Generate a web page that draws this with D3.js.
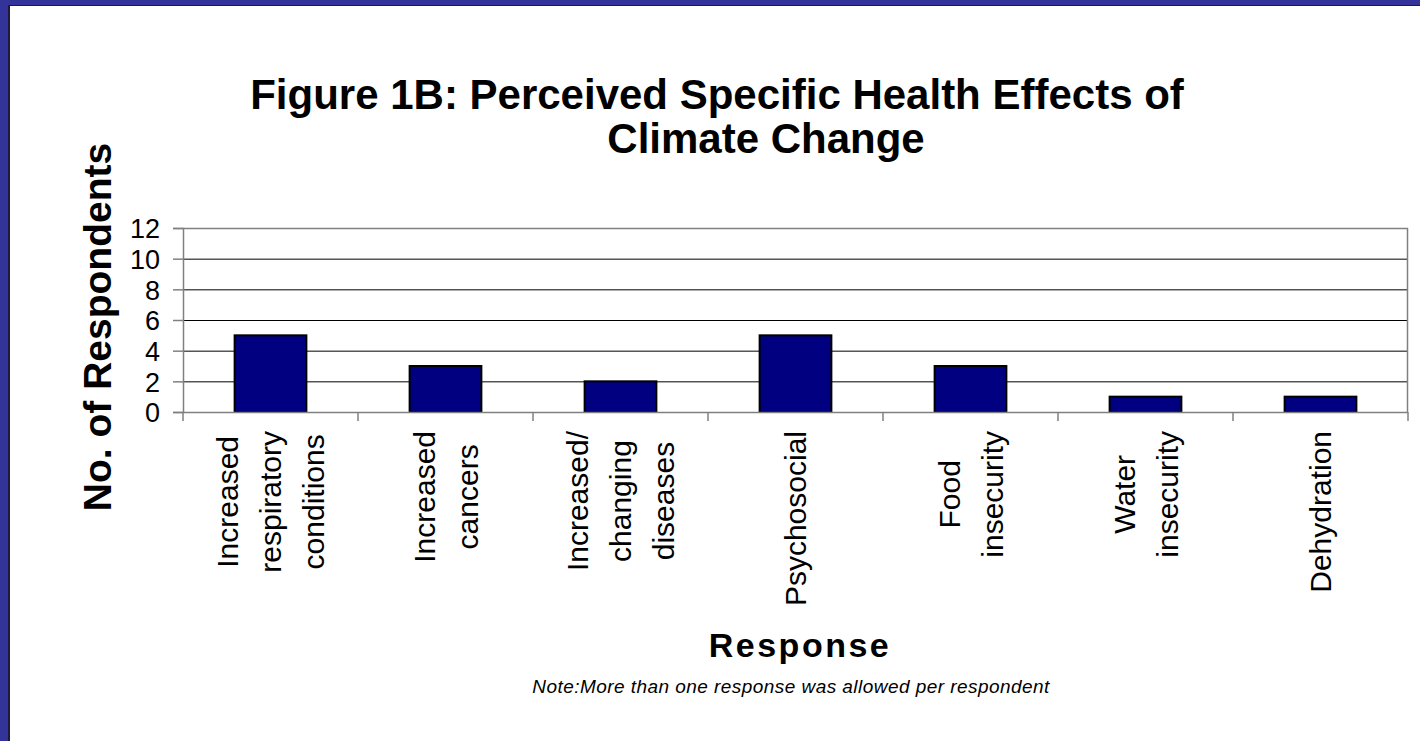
<!DOCTYPE html>
<html>
<head>
<meta charset="utf-8">
<script src="https://cdn.jsdelivr.net/npm/d3@7"></script>
<style>
  html, body { margin: 0; padding: 0; background: #fff; }
  svg { display: block; }
  text { font-family: "Liberation Sans", Arial, sans-serif; fill: #000; }
</style>
</head>
<body>
<svg id="chart" width="1420" height="741"></svg>
<script>
// Survey responses: perceived health effects of climate change
const categories = [
  "Increased respiratory conditions",
  "Increased cancers",
  "Increased/ changing diseases",
  "Psychosocial",
  "Food insecurity",
  "Water insecurity",
  "Dehydration"
];
const categoryLines = [
  ["Increased", "respiratory", "conditions"],
  ["Increased", "cancers"],
  ["Increased/", "changing", "diseases"],
  ["Psychosocial"],
  ["Food", "insecurity"],
  ["Water", "insecurity"],
  ["Dehydration"]
];
const respondents = [5, 3, 2, 5, 3, 1, 1];
const yTicks = [0, 2, 4, 6, 8, 10, 12];
const titleLines = ["Figure 1B: Perceived Specific Health Effects of", "Climate Change"];
const yTitle = "No. of Respondents";
const xTitle = "Response";
const note = "Note:More than one response was allowed per respondent";

const svg = d3.select("#chart");
const W = 1420, H = 741;

// slide frame
svg.append("rect").attr("x", 0).attr("y", 0).attr("width", W).attr("height", H).attr("fill", "#333399");
svg.append("rect").attr("x", 8).attr("y", 5).attr("width", W - 8).attr("height", H - 5).attr("fill", "#1c1c3a");
svg.append("rect").attr("x", 10).attr("y", 6).attr("width", W - 10).attr("height", H - 6).attr("fill", "#ffffff");

const plot = { left: 183, right: 1408, top: 228, bottom: 412 };

const x = d3.scaleBand()
  .domain(categories)
  .range([plot.left, plot.right])
  .paddingInner(0.59)
  .paddingOuter(0.295);

const y = d3.scaleLinear().domain([0, 12]).range([plot.bottom, plot.top]);

// gridlines
svg.append("g")
  .selectAll("line")
  .data(yTicks.filter(t => t > 0 && t < 12))
  .join("line")
  .attr("x1", plot.left).attr("x2", plot.right)
  .attr("y1", d => y(d) + 0.5).attr("y2", d => y(d) + 0.5)
  .attr("stroke", "#000").attr("stroke-width", 1);

// plot border (top and right)
svg.append("path")
  .attr("d", `M${plot.left},${plot.top + 0.5}H${plot.right - 0.5}V${plot.bottom}`)
  .attr("fill", "none").attr("stroke", "#808080").attr("stroke-width", 1.5);

// bars
svg.append("g")
  .selectAll("rect")
  .data(respondents)
  .join("rect")
  .attr("x", (d, i) => x(categories[i]))
  .attr("y", d => y(d))
  .attr("width", x.bandwidth())
  .attr("height", d => y(0) - y(d))
  .attr("fill", "#000080")
  .attr("stroke", "#000")
  .attr("stroke-width", 2);

// y axis
const yAxis = svg.append("g")
  .attr("transform", `translate(${plot.left},0)`)
  .call(d3.axisLeft(y).tickValues(yTicks).tickSize(10).tickPadding(13).tickFormat(d3.format("d")));
yAxis.select(".domain").attr("stroke", "#808080").attr("stroke-width", 1.5);
yAxis.selectAll(".tick line").attr("stroke", "#808080").attr("stroke-width", 1.5);
yAxis.selectAll(".tick text")
  .attr("font-size", 27)
  .attr("dy", "0.36em")
  .attr("font-family", "Liberation Sans, Arial, sans-serif")
  .attr("fill", "#000");

// x axis: tick marks at category boundaries
const boundaries = d3.range(categories.length + 1).map(i => plot.left + i * x.step());
const xAxisG = svg.append("g");
xAxisG.append("line")
  .attr("x1", plot.left).attr("x2", plot.right)
  .attr("y1", plot.bottom + 0.5).attr("y2", plot.bottom + 0.5)
  .attr("stroke", "#808080").attr("stroke-width", 1.5);
xAxisG.selectAll("line.tk")
  .data(boundaries)
  .join("line")
  .attr("class", "tk")
  .attr("x1", d => d).attr("x2", d => d)
  .attr("y1", plot.bottom).attr("y2", plot.bottom + 9)
  .attr("stroke", "#808080").attr("stroke-width", 1.5);

// rotated category labels
const labelTop = 431;
const lineGap = 43;
categoryLines.forEach((lines, i) => {
  const cx = x(categories[i]) + x.bandwidth() / 2;
  const g = svg.append("g");
  const texts = lines.map((ln, j) => g.append("text")
    .attr("font-size", 30)
    .attr("text-anchor", "middle")
    .attr("dy", "0.35em")
    .text(ln));
  const L = d3.max(texts, t => t.node().getComputedTextLength());
  texts.forEach((t, j) => {
    const lx = cx + (j - (lines.length - 1) / 2) * lineGap;
    t.attr("transform", `translate(${lx},${labelTop + L / 2}) rotate(-90)`);
  });
});

// title
svg.append("text")
  .attr("text-anchor", "middle")
  .attr("font-size", 42).attr("font-weight", "bold")
  .selectAll("tspan")
  .data(titleLines)
  .join("tspan")
  .attr("x", (d, i) => i === 0 ? 717 : 766)
  .attr("y", (d, i) => 109 + i * 44)
  .text(d => d);

// y axis title
svg.append("text")
  .attr("transform", "translate(97,327) rotate(-90)")
  .attr("text-anchor", "middle")
  .attr("dy", "0.35em")
  .attr("font-size", 39).attr("font-weight", "bold")
  .text(yTitle);

// x axis title
svg.append("text")
  .attr("x", 800).attr("y", 657)
  .attr("text-anchor", "middle")
  .attr("font-size", 34).attr("font-weight", "bold")
  .attr("letter-spacing", 2.5)
  .text(xTitle);

// note
svg.append("text")
  .attr("x", 791).attr("y", 693)
  .attr("text-anchor", "middle")
  .attr("font-size", 19).attr("font-style", "italic")
  .attr("letter-spacing", 0.45)
  .text(note);
</script>
</body>
</html>
